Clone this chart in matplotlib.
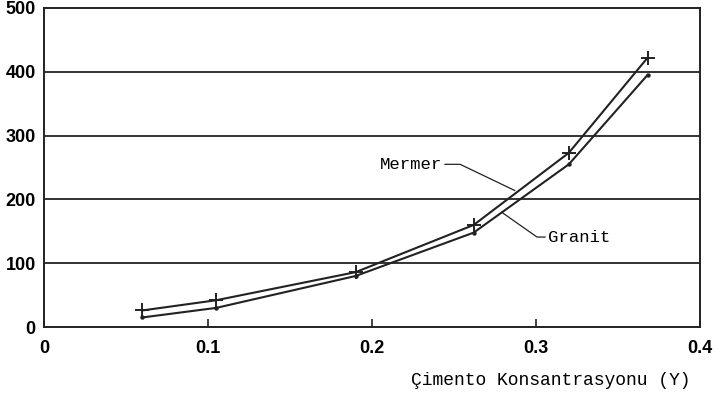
import matplotlib.pyplot as plt

# values
konsantrasyon = [0.06, 0.105, 0.19, 0.262, 0.32, 0.368]
mermer = [26, 42, 86, 160, 273, 422]
granit = [15, 30, 80, 148, 255, 395]

x_ticks = [0, 0.1, 0.2, 0.3, 0.4]
x_labels = ["0", "0.1", "0.2", "0.3", "0.4"]
y_ticks = [0, 100, 200, 300, 400, 500]

tick_font = {"family": "Liberation Sans", "weight": "bold", "size": 13}
mono = "Liberation Mono"

fig = plt.figure(figsize=(7.16, 3.94), dpi=100)
ax = fig.add_axes([0.0615, 0.170, 0.9162, 0.8097])

ax.plot(konsantrasyon, mermer, color="#222222", lw=1.5, marker="+", ms=10, mew=1.4)
ax.plot(konsantrasyon, granit, color="#222222", lw=1.5, marker="o", ms=2.2)

for yv in y_ticks[1:-1]:
  ax.axhline(yv, color="#333333", lw=1.4, zorder=0)

ax.set_xlim(0, 0.4)
ax.set_ylim(0, 500)
for s in ax.spines.values():
  s.set_linewidth(1.4)
  s.set_color("#222222")

ax.set_xticks(x_ticks)
ax.set_xticklabels(x_labels, fontdict=tick_font)
ax.set_yticks(y_ticks)
ax.set_yticklabels([str(v) for v in y_ticks], fontdict=tick_font)
ax.tick_params(axis="x", direction="in", length=6, width=1.2, pad=9, color="#222222")
ax.tick_params(axis="y", length=0, pad=6)

# leader lines and labels
ax.plot([0.2445, 0.2537, 0.287], [255, 255, 214], color="#222222", lw=0.9)
ax.text(0.243, 255, "Mermer", family=mono, size=12.5, ha="right", va="center")
ax.plot([0.279, 0.3006, 0.3055], [180, 141, 141], color="#222222", lw=0.9)
ax.text(0.3075, 141, "Granit", family=mono, size=12.5, ha="left", va="center")

fig.text(0.9650, 0.035, "Çimento Konsantrasyonu (Y)", family=mono, size=13,
         ha="right", va="center")

fig.savefig("out.png", dpi=100)
